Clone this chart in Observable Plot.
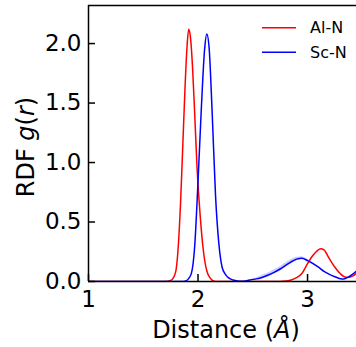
<!DOCTYPE html>
<html>
<head>
<meta charset="utf-8">
<script src="https://cdn.jsdelivr.net/npm/d3@7"></script>
<script src="https://cdn.jsdelivr.net/npm/@observablehq/plot@0.6"></script>
<style>
  html, body { margin: 0; padding: 0; background: #fff; }
  #chart { position: relative; width: 356px; height: 347px; overflow: hidden; }
  svg { font-family: "DejaVu Sans", sans-serif; }
</style>
</head>
<body>
<div id="chart"></div>
<script>
// Al-N radial distribution function
const alR = [1.00, 1.70, 1.75, 1.78, 1.80, 1.82, 1.84, 1.86, 1.88, 1.90, 1.915, 1.93, 1.95, 1.97, 1.99, 2.02, 2.05, 2.08, 2.11, 2.14, 2.18, 2.75, 2.80, 2.85, 2.90, 2.95, 3.00, 3.05, 3.09, 3.12, 3.15, 3.20, 3.25, 3.30, 3.35, 3.38, 3.42, 3.45];
const alG = [0, 0, 0.008, 0.04, 0.10, 0.30, 0.65, 1.12, 1.60, 1.98, 2.12, 2.06, 1.80, 1.40, 0.98, 0.55, 0.25, 0.09, 0.03, 0.005, 0, 0, 0.004, 0.012, 0.032, 0.07, 0.15, 0.22, 0.26, 0.275, 0.265, 0.19, 0.12, 0.065, 0.036, 0.036, 0.05, 0.07];
// Sc-N radial distribution function
const scR = [1.00, 1.85, 1.88, 1.91, 1.94, 1.97, 2.00, 2.03, 2.06, 2.08, 2.10, 2.13, 2.16, 2.19, 2.22, 2.25, 2.28, 2.32, 2.36, 2.40, 2.46, 2.52, 2.57, 2.63, 2.69, 2.75, 2.80, 2.85, 2.90, 2.95, 3.00, 3.05, 3.10, 3.15, 3.20, 3.25, 3.30, 3.33, 3.37, 3.41, 3.45];
const scG = [0, 0, 0.003, 0.02, 0.07, 0.30, 0.84, 1.45, 1.95, 2.08, 1.98, 1.40, 0.72, 0.32, 0.12, 0.06, 0.03, 0.012, 0.004, 0.002, 0.01, 0.02, 0.03, 0.05, 0.075, 0.105, 0.135, 0.165, 0.188, 0.196, 0.175, 0.15, 0.12, 0.085, 0.06, 0.04, 0.024, 0.022, 0.035, 0.06, 0.09];
// Sc-N uncertainty band
const bandR  = [2.50, 2.55, 2.60, 2.65, 2.70, 2.75, 2.80, 2.85, 2.90, 2.95, 3.00, 3.05, 3.10];
const bandLo = [0.010, 0.014, 0.025, 0.040, 0.062, 0.088, 0.118, 0.150, 0.175, 0.185, 0.165, 0.142, 0.116];
const bandHi = [0.022, 0.036, 0.056, 0.075, 0.100, 0.125, 0.155, 0.183, 0.203, 0.208, 0.187, 0.160, 0.125];

const xTicks = [1, 2, 3];
const yTicks = [0, 0.5, 1.0, 1.5, 2.0];
const xDomain = [1, 3.447];
const yDomain = [0, 2.32];
const seriesNames = ["Al-N", "Sc-N"];
const seriesColors = ["#ff0000", "#0000ff"];

const al = alR.map((r, i) => ({r, g: alG[i]}));
const sc = scR.map((r, i) => ({r, g: scG[i]}));
const band = bandR.map((r, i) => ({r, lo: bandLo[i], hi: bandHi[i]}));

const plot = Plot.plot({
  width: 356,
  height: 347,
  marginLeft: 88,
  marginRight: 0,
  marginTop: 5,
  marginBottom: 66,
  style: {fontFamily: "DejaVu Sans, sans-serif", fontSize: "23px", color: "#000", background: "#fff", overflow: "visible"},
  x: {domain: xDomain, label: null},
  y: {domain: yDomain, label: null},
  marks: [
    Plot.areaY(band, {x: "r", y1: "lo", y2: "hi", fill: seriesColors[1], fillOpacity: 0.2, curve: "monotone-x", clip: true}),
    Plot.line(al, {x: "r", y: "g", stroke: seriesColors[0], strokeWidth: 1.5, curve: "monotone-x", clip: true}),
    Plot.line(sc, {x: "r", y: "g", stroke: seriesColors[1], strokeWidth: 1.5, curve: "monotone-x", clip: true}),
    Plot.axisX(xTicks, {tickSize: -7, tickPadding: 16, strokeWidth: 1.5, tickFormat: d => d3.format("d")(d), fontSize: 23}),
    Plot.axisY(yTicks, {tickSize: -7, tickPadding: 14, strokeWidth: 1.5, tickFormat: d => d3.format(".1f")(d), fontSize: 23}),
    Plot.ruleX([xDomain[0]], {stroke: "#000", strokeWidth: 1.5}),
    Plot.ruleY([yDomain[0]], {stroke: "#000", strokeWidth: 1.5}),
    Plot.ruleY([yDomain[1]], {stroke: "#000", strokeWidth: 1.5})
  ]
});
document.getElementById("chart").appendChild(plot);

const svg = d3.select(plot);
// Axis labels with italic math parts
const yl = svg.append("text")
  .attr("transform", "translate(34,147) rotate(-90)")
  .attr("text-anchor", "middle")
  .attr("font-size", 24).attr("fill", "#000");
yl.append("tspan").text("RDF ");
yl.append("tspan").attr("font-style", "italic").text("g");
yl.append("tspan").text("(");
yl.append("tspan").attr("font-style", "italic").text("r");
yl.append("tspan").text(")");

const xl = svg.append("text")
  .attr("x", 226).attr("y", 338)
  .attr("text-anchor", "middle")
  .attr("font-size", 24).attr("fill", "#000");
xl.append("tspan").text("Distance (");
xl.append("tspan").attr("font-style", "italic").text("Å");
xl.append("tspan").text(")");

// Legend
const leg = svg.append("g").attr("text-anchor", "start");
seriesNames.forEach((name, i) => {
  const y = 27.7 + i * 24.6;
  leg.append("line").attr("x1", 262).attr("x2", 296).attr("y1", y).attr("y2", y)
    .attr("stroke", seriesColors[i]).attr("stroke-width", 1.5);
  leg.append("text").attr("x", 310).attr("y", y).attr("dy", "0.36em")
    .attr("text-anchor", "start")
    .attr("font-size", 16).attr("fill", "#000").text(name);
});
</script>
</body>
</html>
